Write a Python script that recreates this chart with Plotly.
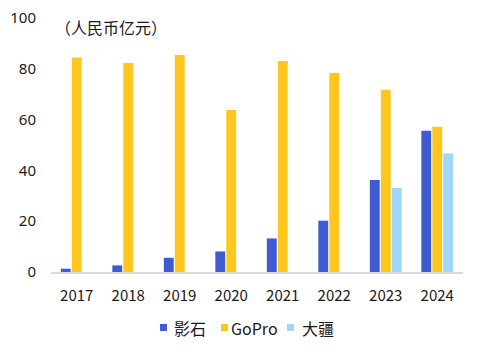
import plotly.graph_objects as go

years = ["2017", "2018", "2019", "2020", "2021", "2022", "2023", "2024"]
insta = [1.3, 2.6, 5.6, 8.1, 13.2, 20.2, 36.2, 55.6]
gopro = [84.4, 82.3, 85.4, 63.8, 83.1, 78.3, 71.8, 57.2]
dji = [None, None, None, None, None, None, 33.1, 46.7]
names = ["影石", "GoPro", "大疆"]
colors = ["#3F5BD2", "#FFC61E", "#9FD6FA"]
y_ticks = [0, 20, 40, 60, 80, 100]

FONT = "Noto Sans CJK SC, Noto Sans, sans-serif"
TXT = "#1A1A1A"
OFF = 8  # default page body margin

fig = go.Figure()
for name, vals, col in zip(names, [insta, gopro, dji], colors):
    fig.add_trace(go.Bar(x=years, y=vals, name=name, marker_color=col,
                         marker_line_width=0, showlegend=False))

# plot area in page pixel coordinates
L, R, T, B = 51, 463, 18, 272
def px_x(p):
    return (p - L) / (R - L)
def px_y(p):
    return (B - p) / (B - T)

legend_items = [(160, 172), (221, 229), (287, 300)]
shapes, annots = [], []
for (sq, tx), name, col in zip(legend_items, names, colors):
    shapes.append(dict(type="rect", xref="paper", yref="paper",
                       x0=px_x(sq), x1=px_x(sq + 7), y0=px_y(331), y1=px_y(324),
                       fillcolor=col, line_width=0))
    annots.append(dict(text=name, xref="paper", yref="paper", x=px_x(tx), y=px_y(327.5),
                       xanchor="left", yanchor="middle", showarrow=False,
                       font=dict(size=16, color=TXT)))
annots.append(dict(text="（人民币亿元）", xref="paper", yref="paper",
                   x=px_x(53), y=px_y(27), xanchor="left", yanchor="middle",
                   showarrow=False, font=dict(size=16, color=TXT)))

fig.update_layout(
    width=483, height=356,
    margin=dict(l=L - OFF, r=483 - (R - OFF), t=T - OFF, b=356 - (B - OFF),
                autoexpand=False),
    paper_bgcolor="white", plot_bgcolor="white",
    barmode="group", bargap=0.36, bargroupgap=0.1,
    font=dict(family=FONT, size=14, color=TXT),
    showlegend=False,
    shapes=shapes, annotations=annots,
)
fig.update_xaxes(showgrid=False, showline=True, linecolor="#D9D9D9", linewidth=1.5,
                 ticks="", ticklabelstandoff=9, tickfont=dict(size=15))
fig.update_yaxes(range=[0, 100], tickvals=y_ticks, showgrid=False, zeroline=False,
                 showline=False, ticks="", ticklabelstandoff=14,
                 tickfont=dict(size=15, family="Noto Sans, sans-serif"),
                 ticklabeloverflow="allow")

fig.write_html("out.html")
